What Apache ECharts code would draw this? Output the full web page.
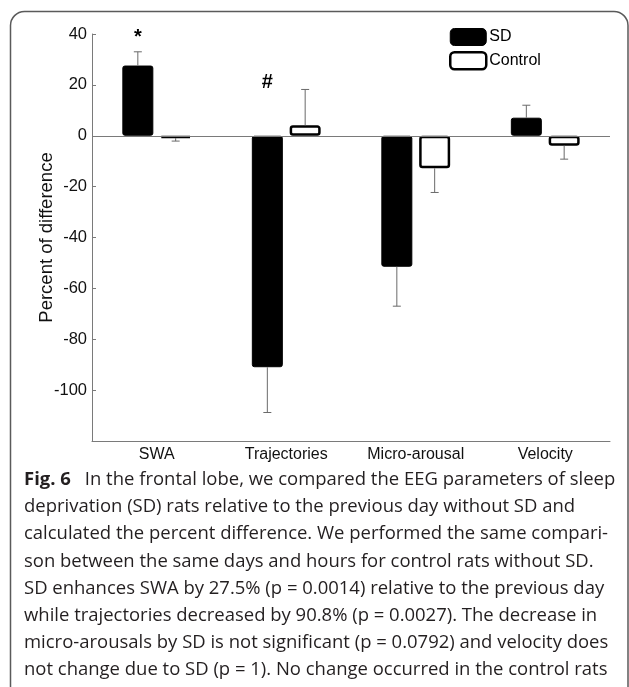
<!DOCTYPE html>
<html><head><meta charset="utf-8">
<script src="https://cdn.jsdelivr.net/npm/echarts@6/dist/echarts.min.js"></script>
<style>html,body{margin:0;padding:0;background:#fff}#c{width:629px;height:687px}</style>
</head><body><div id="c"></div>
<script>
// ---- data ----
const categories = ['SWA', 'Trajectories', 'Micro-arousal', 'Velocity'];
const sdValues = [27.6, -91.0, -51.5, 7.1];
const sdErrorEnds = [33.0, -108.8, -67.0, 12.0];
const controlValues = [-0.9, 4.1, -12.8, -3.9];
const controlErrorEnds = [-2.1, 18.2, -22.3, -9.2];
const yTickLabels = [40, 20, 0, -20, -40, -60, -80, -100];
const annotationCategories = ['SWA', 'Trajectories'];
const annotationTexts = ['*', '#'];
const annotationValues = [38.8, 20.8];
const captionBold = 'Fig. 6';
const captionLines = [
  'In the frontal lobe, we compared the EEG parameters of sleep',
  'deprivation (SD) rats relative to the previous day without SD and',
  'calculated the percent difference. We performed the same compari-',
  'son between the same days and hours for control rats without SD.',
  'SD enhances SWA by 27.5% (p = 0.0014) relative to the previous day',
  'while trajectories decreased by 90.8% (p = 0.0027). The decrease in',
  'micro-arousals by SD is not significant (p = 0.0792) and velocity does',
  'not change due to SD (p = 1). No change occurred in the control rats'
];

// ---- style ----
const SANS = '"Liberation Sans", Arial, Helvetica, sans-serif';
const CAP_FONT = '"Open Sans", "Noto Sans", sans-serif';
const AXIS_COLOR = '#7a7a7a';
const ERR_COLOR = '#6a6a6a';
const BAR_W = 31;
const GAP_RATIO = 0.22;
const BAR_OFFSET = (BAR_W + BAR_W * GAP_RATIO) / 2;

// caption font fitting
const mctx = document.createElement('canvas').getContext('2d');
function measure(t, size, weight) { mctx.font = (weight || 'normal') + ' ' + size + 'px ' + CAP_FONT; return mctx.measureText(t).width; }
const CAP_X = 24;
const fitTargets = [578, 569, 586, 589]; // widths of lines 5..8
let sSum = 0;
for (let k = 0; k < 4; k++) sSum += fitTargets[k] / measure(captionLines[4 + k], 100) * 100;
const capSize = sSum / 4;
const boldW = measure(captionBold, capSize, 'bold');
const LINE_H = 27.1;
const LINE1_Y = 480;

const captionGraphics = [];
captionGraphics.push({ type: 'text', x: CAP_X, y: LINE1_Y, style: { text: captionBold, font: 'bold ' + capSize + 'px ' + CAP_FONT, fill: '#231f20', verticalAlign: 'middle', align: 'left' } });
captionLines.forEach((line, i) => {
  captionGraphics.push({ type: 'text', x: i === 0 ? CAP_X + boldW + 14 : CAP_X, y: LINE1_Y + LINE_H * i,
    style: { text: line, font: capSize + 'px ' + CAP_FONT, fill: '#231f20', verticalAlign: 'middle', align: 'left' } });
});

function errorSeries(name, ends, values, sign) {
  return {
    name: name + ' err', type: 'custom', z: 3, silent: true,
    data: categories.map((c, i) => [i, values[i], ends[i]]),
    renderItem(params, api) {
      const i = api.value(0);
      const p0 = api.coord([i, api.value(1)]);
      const p1 = api.coord([i, api.value(2)]);
      const x = p0[0] + sign * BAR_OFFSET;
      return { type: 'group', children: [
        { type: 'line', shape: { x1: x, y1: p0[1], x2: x, y2: p1[1] }, style: { stroke: ERR_COLOR, lineWidth: 1 } },
        { type: 'line', shape: { x1: x - 4, y1: p1[1], x2: x + 4, y2: p1[1] }, style: { stroke: ERR_COLOR, lineWidth: 1 } }
      ] };
    }
  };
}

const chart = echarts.init(document.getElementById('c'), null, { renderer: 'canvas' });
chart.setOption({
  animation: false,
  backgroundColor: '#fff',
  grid: { left: 92, right: 19, top: 34, bottom: 246, containLabel: false },
  legend: {
    left: 449, top: 28, orient: 'vertical', itemWidth: 36, itemHeight: 17, itemGap: 5, padding: 0,
    selectedMode: false,
    textStyle: { fontFamily: SANS, fontSize: 16, color: '#000', padding: [0, 0, 0, -2] },
    data: [
      { name: 'SD', icon: 'roundRect', itemStyle: { color: '#000', borderColor: '#000', borderWidth: 1 } },
      { name: 'Control', icon: 'roundRect', itemStyle: { color: '#fff', borderColor: '#000', borderWidth: 2.5 } }
    ]
  },
  xAxis: {
    type: 'category', data: categories,
    axisLine: { onZero: false, lineStyle: { color: AXIS_COLOR, width: 1 } },
    axisTick: { inside: true, alignWithLabel: true, length: 5, lineStyle: { color: AXIS_COLOR } },
    axisLabel: { interval: 0, fontFamily: SANS, fontSize: 16, color: '#111', margin: 6 },
    splitLine: { show: false }
  },
  yAxis: {
    type: 'value', min: -120, max: 40, interval: 20,
    name: 'Percent of difference', nameLocation: 'middle', nameGap: 36, nameMoveOverlap: false,
    nameTextStyle: { fontFamily: SANS, fontSize: 18.5, color: '#111' },
    axisLine: { show: true, lineStyle: { color: AXIS_COLOR, width: 1 } },
    axisTick: { show: true, inside: true, length: 4, lineStyle: { color: AXIS_COLOR } },
    axisLabel: { fontFamily: SANS, fontSize: 16.5, color: '#111', margin: 5,
      formatter: v => yTickLabels.includes(v) ? String(v) : '' },
    splitLine: { show: false }
  },
  series: [
    {
      name: 'zero', type: 'line', data: [], z: 1, silent: true,
      markLine: { silent: true, symbol: 'none', label: { show: false },
        lineStyle: { color: AXIS_COLOR, width: 1, type: 'solid' }, data: [{ yAxis: 0 }] }
    },
    {
      name: 'SD', type: 'bar', data: sdValues, barWidth: BAR_W, barGap: (GAP_RATIO * 100) + '%', z: 2,
      itemStyle: { color: '#000', borderColor: '#000', borderWidth: 1, borderRadius: 2 }
    },
    {
      name: 'Control', type: 'bar', data: controlValues, barWidth: BAR_W, z: 2,
      itemStyle: { color: '#fff', borderColor: '#000', borderWidth: 2.5, borderRadius: 2 }
    },
    errorSeries('SD', sdErrorEnds, sdValues, -1),
    errorSeries('Control', controlErrorEnds, controlValues, 1),
    {
      name: 'annotations', type: 'custom', z: 4, silent: true,
      data: annotationCategories.map((c, i) => [categories.indexOf(c), annotationValues[i], annotationTexts[i]]),
      renderItem(params, api) {
        const p = api.coord([api.value(0), api.value(1)]);
        return { type: 'text', x: p[0] - BAR_OFFSET, y: p[1],
          style: { text: annotationTexts[params.dataIndex], font: 'bold 20px ' + SANS, fill: '#000', align: 'center', verticalAlign: 'middle' } };
      }
    }
  ],
  graphic: [
    { type: 'rect', silent: true, shape: { x: 10.5, y: 11.5, width: 617.5, height: 700, r: 14 },
      style: { fill: 'none', stroke: '#5a5a5a', lineWidth: 1.5 } }
  ].concat(captionGraphics)
});
</script>
</body></html>
